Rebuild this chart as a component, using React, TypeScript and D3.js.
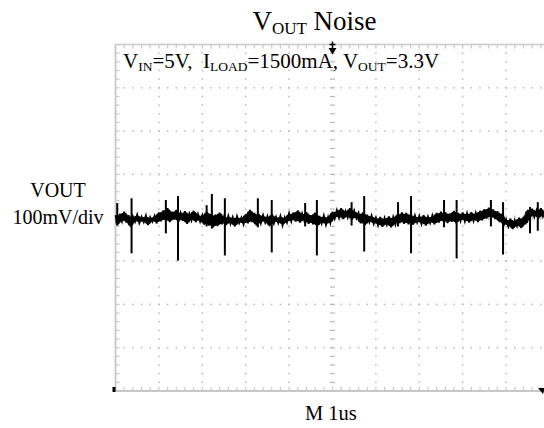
import React from 'react';
import * as d3 from 'd3';

const W = 544;
const H = 428;

// Horizontal: 1 µs/div, 10 divisions. Vertical: 100 mV/div, 8 divisions (AC-coupled).
const timeDomain = [0, 10];
const voltDomain = [-400, 400];
const minorPerDiv = 5;

// Sampled output ripple in mV, one sample every 0.05 µs.
const sampleStep = 0.05;
const traceMv: number[] = [
  // 0–1 µs
  6, -16, 9, -8, 14, -11, 6, -21, 3, -9, 7, -12, 2, -10, 5, -17, 1, -9, 4, -13,
  // 1–2 µs
  12, -8, 17, -6, 22, -10, 14, -4, 18, -9, 11, -7, 15, -14, 9, -6, 16, -10, 8, -9,
  // 2–3 µs
  6, -16, 14, -18, 9, -22, 7, -19, 12, -15, 2, -17, 4, -14, 1, -20, 3, -12, 0, -15,
  // 3–4 µs
  8, -13, 18, -10, 11, -18, 9, -12, 6, -11, 3, -19, 8, -13, 2, -12, 4, -17, 1, -11,
  // 4–5 µs
  10, -8, 12, -9, 17, -11, 9, -7, 13, -14, 6, -15, 12, -20, 4, -13, 5, -16, 2, -12,
  // 5–6 µs
  14, -2, 17, 0, 22, -3, 15, 1, 22, -4, 16, -1, 11, -13, 12, -17, 7, -10, 5, -14,
  // 6–7 µs
  0, -17, 2, -21, -1, -16, 3, -22, 1, -15, 8, -12, 12, -14, 11, -15, 8, -16, 5, -11,
  // 7–8 µs
  4, -14, 6, -18, 2, -12, 5, -15, 11, -11, 14, -8, 13, -12, 10, -9, 16, -13, 11, -7,
  // 8–9 µs
  12, -8, 10, -11, 13, -7, 11, -10, 16, -6, 20, -2, 23, 0, 19, -3, 15, -10, 9, -16,
  // 9–10 µs
  -4, -20, -2, -26, -6, -19, 0, -24, 2, -15, 18, 0, 21, 2, 17, -1, 22, 3, 15, 0,
];

// Switching spikes: time (µs), peak high and low (mV).
const spikeTimes = [0.04, 0.37, 1.16, 1.44, 2.1, 2.22, 2.52, 3.28, 3.6, 4.37, 4.64, 5.44, 5.73, 6.51, 6.81, 7.57, 7.86, 8.65, 8.93, 9.55, 9.73];
const spikeHigh = [34, 45, 41, 50, 29, 55, 45, 45, 41, 34, 41, 36, 50, 36, 50, 41, 41, 41, 36, 25, 36];
const spikeLow = [-18, -82, -36, -99, -20, -25, -87, -22, -80, -20, -87, -18, -78, -20, -82, -22, -94, -20, -85, -36, -30];

const titleMain = 'V';
const titleSub = 'OUT';
const titleRest = ' Noise';
const channelName = 'VOUT';
const channelScale = '100mV/div';
const timebase = 'M 1us';

const GRID = '#b8b8b8';
const BORDER = '#c8c8c8';
const FONT = '"Liberation Serif", "Times New Roman", serif';

export default function App() {
  const x = d3.scaleLinear().domain(timeDomain).range([115.5, 549.5]);
  const y = d3.scaleLinear().domain(voltDomain).range([391, 44.5]);

  const tMinor = d3.range(0, 10 * minorPerDiv + 1).map((k) => k / minorPerDiv);
  const vMinor = d3.range(0, 8 * minorPerDiv + 1).map((k) => -400 + (k * 100) / minorPerDiv);
  const tMajor = d3.range(1, 10);
  const vMajor = d3.range(-300, 301, 100);

  const line = d3
    .line<number>()
    .x((_, i) => x(i * sampleStep))
    .y((d) => y(d));

  // dense core of the trace: span of each sample and its neighbours, pulled in a little
  const span = (i: number) => traceMv.slice(Math.max(0, i - 1), Math.min(traceMv.length, i + 2));
  const core = d3
    .area<number>()
    .x((_, i) => x(i * sampleStep))
    .y0((_, i) => y((d3.min(span(i)) as number) + 3))
    .y1((_, i) => y((d3.max(span(i)) as number) - 3));

  const dots: JSX.Element[] = [];
  // dotted vertical division lines
  tMajor.forEach((t) => {
    if (t === 5) return;
    vMinor.forEach((v, j) => {
      if (j === 0 || j === vMinor.length - 1) return;
      dots.push(<rect key={`v${t}-${j}`} x={x(t) - 0.75} y={y(v) - 0.75} width={1.5} height={1.5} fill={GRID} />);
    });
  });
  // dotted horizontal division lines
  vMajor.forEach((v) => {
    if (v === 0) return;
    tMinor.forEach((t, j) => {
      if (j === 0) return;
      dots.push(<rect key={`h${v}-${j}`} x={x(t) - 0.75} y={y(v) - 0.75} width={1.5} height={1.5} fill={GRID} />);
    });
  });

  const ticks: JSX.Element[] = [];
  // center crosshair ticks
  vMinor.forEach((v, j) => {
    ticks.push(<line key={`cv${j}`} x1={x(5) - 2.5} x2={x(5) + 2.5} y1={y(v)} y2={y(v)} stroke={GRID} strokeWidth={1.2} />);
  });
  tMinor.forEach((t, j) => {
    ticks.push(<line key={`ch${j}`} x1={x(t)} x2={x(t)} y1={y(0) - 2.5} y2={y(0) + 2.5} stroke={GRID} strokeWidth={1.2} />);
  });
  // border ticks
  tMinor.forEach((t, j) => {
    ticks.push(<line key={`bt${j}`} x1={x(t)} x2={x(t)} y1={y(-400)} y2={y(-400) - 4} stroke={BORDER} strokeWidth={1.2} />);
    ticks.push(<line key={`tt${j}`} x1={x(t)} x2={x(t)} y1={y(400)} y2={y(400) + 4} stroke={BORDER} strokeWidth={1.2} />);
  });
  vMinor.forEach((v, j) => {
    ticks.push(<line key={`lt${j}`} x1={x(0)} x2={x(0) + 4} y1={y(v)} y2={y(v)} stroke={BORDER} strokeWidth={1.2} />);
  });

  const trigX = x(5);

  return (
    <svg
      width={W}
      height={H}
      viewBox={`0 0 ${W} ${H}`}
      style={{ position: 'absolute', left: 0, top: 0, background: '#fff', fontFamily: FONT }}
    >
      <rect width={W} height={H} fill="#fff" />

      {/* graticule */}
      {dots}
      {ticks}
      <line x1={x(0)} x2={x(10)} y1={y(400)} y2={y(400)} stroke={BORDER} strokeWidth={1.5} />
      <line x1={x(0)} x2={x(10)} y1={y(-400)} y2={y(-400)} stroke={BORDER} strokeWidth={1.8} />
      <line x1={x(0)} x2={x(0)} y1={y(400)} y2={y(-400)} stroke={BORDER} strokeWidth={1.8} />
      <line x1={x(10)} x2={x(10)} y1={y(400)} y2={y(-400)} stroke={BORDER} strokeWidth={1.8} />

      {/* trace */}
      <path d={core(traceMv) ?? ''} fill="#000" />
      <path d={line(traceMv) ?? ''} fill="none" stroke="#000" strokeWidth={1.9} strokeLinejoin="miter" />
      {spikeTimes.map((t, i) => (
        <line key={`s${i}`} x1={x(t)} x2={x(t)} y1={y(spikeLow[i])} y2={y(spikeHigh[i])} stroke="#000" strokeWidth={2} />
      ))}

      {/* trigger position marker */}
      <path d={`M${trigX - 4},${y(400) + 3.5} L${trigX + 4},${y(400) + 3.5} L${trigX},${y(400) + 10} Z`} fill="#000" />
      <line x1={trigX} x2={trigX} y1={y(400) - 3} y2={y(400) + 5} stroke="#000" strokeWidth={1.5} />
      <line x1={trigX - 3} x2={trigX + 3} y1={y(400)} y2={y(400)} stroke="#000" strokeWidth={1.5} />

      {/* channel ground / trigger level markers */}
      <path d={`M${x(0) - 3},${y(-400) - 4} L${x(0)},${y(-400) - 4} L${x(0)},${y(-400) + 1} L${x(0) - 3},${y(-400) + 1} Z`} fill="#000" />
      <path d={`M538,${y(-400) - 3} L545,${y(-400) - 3} L543,${y(-400) + 3} Z`} fill="#000" />

      {/* title */}
      <text x={314.5} y={30} fontSize={27} textAnchor="middle" fill="#000">
        {titleMain}
        <tspan fontSize={17} dy={3.5}>{titleSub}</tspan>
        <tspan dy={-3.5}>{titleRest}</tspan>
      </text>

      {/* test conditions */}
      <text x={123} y={68} fontSize={21} fill="#000" style={{ whiteSpace: 'pre' }}>
        V<tspan fontSize={13.5} dy={3}>IN</tspan>
        <tspan dy={-3}>{'=5V,  I'}</tspan>
        <tspan fontSize={13.5} dy={3}>LOAD</tspan>
        <tspan dy={-3}>{'=1500mA, V'}</tspan>
        <tspan fontSize={13.5} dy={3}>OUT</tspan>
        <tspan dy={-3}>{'=3.3V'}</tspan>
      </text>

      {/* channel label */}
      <text x={58} y={196.5} fontSize={20} textAnchor="middle" fill="#000">{channelName}</text>
      <text x={58} y={223.5} fontSize={20} textAnchor="middle" fill="#000">{channelScale}</text>

      {/* timebase */}
      <text x={305} y={420} fontSize={20.5} fill="#000">{timebase}</text>
    </svg>
  );
}
